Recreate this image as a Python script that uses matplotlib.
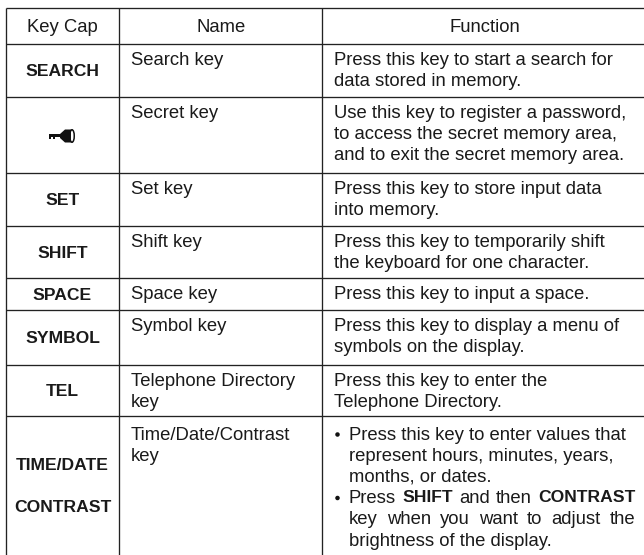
import matplotlib
matplotlib.use("Agg")
import matplotlib.pyplot as plt
from matplotlib.patches import Polygon, Rectangle, Ellipse

plt.rcParams['font.family'] = ['Liberation Sans', 'DejaVu Sans']

W, H = 644, 555

headers = ["Key Cap", "Name", "Function"]
key_caps = ["SEARCH", "", "SET", "SHIFT", "SPACE", "SYMBOL", "TEL"]
names = ["Search key", "Secret key", "Set key", "Shift key", "Space key", "Symbol key",
         "Telephone Directory\nkey"]
functions = [
    "Press this key to start a search for\ndata stored in memory.",
    "Use this key to register a password,\nto access the secret memory area,\nand to exit the secret memory area.",
    "Press this key to store input data\ninto memory.",
    "Press this key to temporarily shift\nthe keyboard for one character.",
    "Press this key to input a space.",
    "Press this key to display a menu of\nsymbols on the display.",
    "Press this key to enter the\nTelephone Directory.",
]
last_caps = ["TIME/DATE", "CONTRAST"]
last_name = "Time/Date/Contrast\nkey"
last_bullet_1 = "Press this key to enter values that\nrepresent hours, minutes, years,\nmonths, or dates."
last_bullet_2a = [("Press", False), ("SHIFT", True), ("and", False), ("then", False), ("CONTRAST", True)]
last_bullet_2b = [(w, False) for w in "key when you want to adjust the".split()]
last_bullet_2c = "brightness of the display."

col_x = [6, 119.5, 322.3]
row_y = [7.5, 44, 97, 172.7, 226, 278, 310, 364.7, 416]

FS = 13.3
FS_BOLD = 12.6
INK = "#1a1a1a"

fig = plt.figure(figsize=(W / 100, H / 100), dpi=100)
ax = fig.add_axes([0, 0, 1, 1])
ax.set_xlim(0, W)
ax.set_ylim(H, 0)
ax.axis("off")

# grid, the right border is cut off by the page
for x in col_x:
    ax.plot([x, x], [row_y[0], H], color="#222222", lw=0.95, solid_capstyle="butt")
for y in row_y:
    ax.plot([col_x[0], W], [y, y], color="#222222", lw=0.95, solid_capstyle="butt")

# header row
ax.text(62, 27.5, headers[0], ha="center", va="center", fontsize=FS, color=INK)
ax.text(221, 27.5, headers[1], ha="center", va="center", fontsize=FS, color=INK)
ax.text(485, 27.5, headers[2], ha="center", va="center", fontsize=FS, color=INK)


def body(x, y, s):
    ax.text(x, y, s, ha="left", va="top", fontsize=FS, color=INK, linespacing=1.31)


def bold_cap(y, s):
    ax.text(62.5, y, s, ha="center", va="center", fontsize=FS_BOLD, fontweight="bold", color=INK)


def justified(words, x0, x1, y):
    # spread the words so the line fills x0..x1
    renderer = fig.canvas.get_renderer()
    items = []
    total = 0
    for w, is_bold in words:
        t = ax.text(x0, y, w, ha="left", va="top", color=INK,
                    fontsize=FS_BOLD if is_bold else FS, fontweight="bold" if is_bold else "normal")
        wd = t.get_window_extent(renderer).width
        items.append((t, wd))
        total += wd
    gap = (x1 - x0 - total) / (len(words) - 1)
    x = x0
    for t, wd in items:
        t.set_x(x)
        x += wd + gap


for i in range(7):
    top, bot = row_y[i + 1], row_y[i + 2]
    bold_cap((top + bot) / 2 + 1.5, key_caps[i])
    body(131, top + 8, names[i])
    body(334, top + 8, functions[i])

# key icon in the secret key row
ax.add_patch(Rectangle((49.5, 134), 12, 3, color="#111111", lw=0))
ax.add_patch(Rectangle((49.5, 136.5), 1.6, 2, color="#111111", lw=0))
ax.add_patch(Rectangle((53, 136.5), 1.6, 2, color="#111111", lw=0))
ax.add_patch(Polygon([(60, 134), (65, 129.5), (71, 129.5), (71, 142.5), (65, 142.5), (60, 138)],
                     color="#111111", lw=0))
ax.add_patch(Ellipse((72, 136), 4.5, 12.5, fill=False, ec="#111111", lw=1.1))

# last row
bold_cap(465, last_caps[0])
bold_cap(507.7, last_caps[1])
body(131, 426.5, last_name)

for y in [434.5, 498]:
    ax.add_patch(Ellipse((337.5, y), 4.5, 4.5, color="#111111", lw=0))
body(349, 426.5, last_bullet_1)
justified(last_bullet_2a, 349, 635.5, 490)
justified(last_bullet_2b, 349, 635.5, 511.5)
body(349, 533, last_bullet_2c)

fig.savefig("out.png", dpi=100)
